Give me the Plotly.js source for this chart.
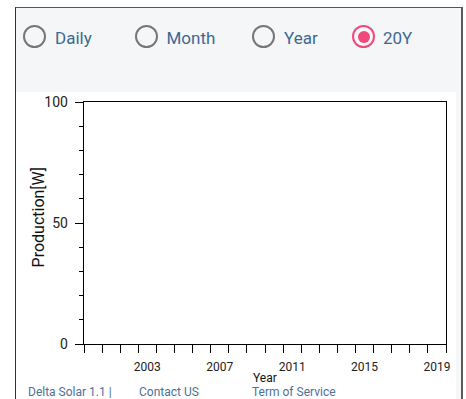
<!DOCTYPE html>
<html>
<head>
<meta charset="utf-8">
<script src="https://cdn.plot.ly/plotly-3.0.1.min.js"></script>
<style>
  html, body { margin:0; padding:0; width:466px; height:399px; overflow:hidden; background:#ffffff; font-family: Roboto, "Noto Sans", sans-serif; }
  #frame { position:absolute; left:15px; top:7px; width:445px; height:420px; background:#f5f6f8;
           border-left:1px solid #333; border-top:1px solid #555; border-right:2px solid #5a5a5a; }
  #white { position:absolute; left:16px; top:92px; width:440px; height:320px; background:#ffffff; }
  .radio { position:absolute; top:25px; width:19px; height:19px; border:2px solid #767676; border-radius:50%; box-sizing:content-box; }
  .radio.sel { border-color:#ee4a7c; }
  .radio.sel::after { content:""; position:absolute; left:3.5px; top:3.5px; width:12px; height:12px; border-radius:50%; background:#ee4a7c; }
  .rlabel { position:absolute; top:28px; font-size:17px; line-height:20px; color:#3f6890; }
  .foot { position:absolute; top:386px; font-size:12px; line-height:12px; color:#4e7198; white-space:nowrap; }
  #chart { position:absolute; left:0; top:0; width:466px; height:399px; }
</style>
</head>
<body>
<div id="frame"></div>
<div id="white"></div>
<div class="radio" style="left:22.5px"></div><div class="rlabel" style="left:55px">Daily</div>
<div class="radio" style="left:134.5px"></div><div class="rlabel" style="left:166.5px">Month</div>
<div class="radio" style="left:252px"></div><div class="rlabel" style="left:284px">Year</div>
<div class="radio sel" style="left:352px"></div><div class="rlabel" style="left:383px">20Y</div>
<div class="foot" style="left:28px">Delta Solar 1.1 |</div>
<div class="foot" style="left:139px">Contact US</div>
<div class="foot" style="left:252px">Term of Service</div>
<div id="chart"></div>
<script>
// Data (chart is empty in the reference)
var years = [];
var production = [];
var xRange = [2000, 2020];
var yRange = [0, 100];
var xTickVals = [2003.5, 2007.5, 2011.5, 2015.5, 2019.5];
var xTickText = ["2003", "2007", "2011", "2015", "2019"];
var xTitle = 'Year';
var yTitle = 'Production[W]';

var trace = { x: years, y: production, type: 'scatter', mode: 'lines', showlegend: false };

var layout = {
  width: 466, height: 399,
  margin: { l: 84, r: 20, t: 102, b: 55, pad: 0 },
  paper_bgcolor: 'rgba(0,0,0,0)',
  plot_bgcolor: '#ffffff',
  font: { family: 'Roboto, sans-serif', color: '#222222' },
  showlegend: false,
  xaxis: {
    range: xRange, fixedrange: true,
    showline: true, linecolor: '#000', linewidth: 1.3, mirror: true,
    showgrid: false, zeroline: false,
    tickmode: 'array', tickvals: xTickVals, ticktext: xTickText, ticks: '',
    tickfont: { size: 12, color: '#222' },
    ticklabelstandoff: 11,
    minor: { ticks: 'outside', ticklen: 8, tickwidth: 1, tickcolor: '#000', tickmode: 'linear', tick0: 2000, dtick: 1, showgrid: false }
  },
  yaxis: {
    range: yRange, fixedrange: true,
    showline: true, linecolor: '#000', linewidth: 1.3, mirror: true,
    showgrid: false, zeroline: false,
    tickmode: 'linear', tick0: 0, dtick: 50,
    ticks: 'outside', ticklen: 8, tickwidth: 1, tickcolor: '#000',
    tickfont: { size: 14, color: '#222' },
    ticklabelstandoff: 4,
    minor: { ticks: 'outside', ticklen: 4, tickwidth: 1, tickcolor: '#000', dtick: 10, showgrid: false }
  },
  annotations: [
    { text: xTitle, xref: 'paper', yref: 'paper', x: 0.5, y: -0.1736, xanchor: 'center', yanchor: 'bottom',
      borderpad: 0, showarrow: false, font: { size: 12, color: '#111' } },
    { text: yTitle, xref: 'paper', yref: 'paper', x: -0.1257, y: 0.525, xanchor: 'center', yanchor: 'middle',
      textangle: -90, showarrow: false, font: { size: 16, color: '#111' } }
  ]
};

Plotly.newPlot('chart', [trace], layout, { displayModeBar: false, staticPlot: true });
</script>
</body>
</html>
